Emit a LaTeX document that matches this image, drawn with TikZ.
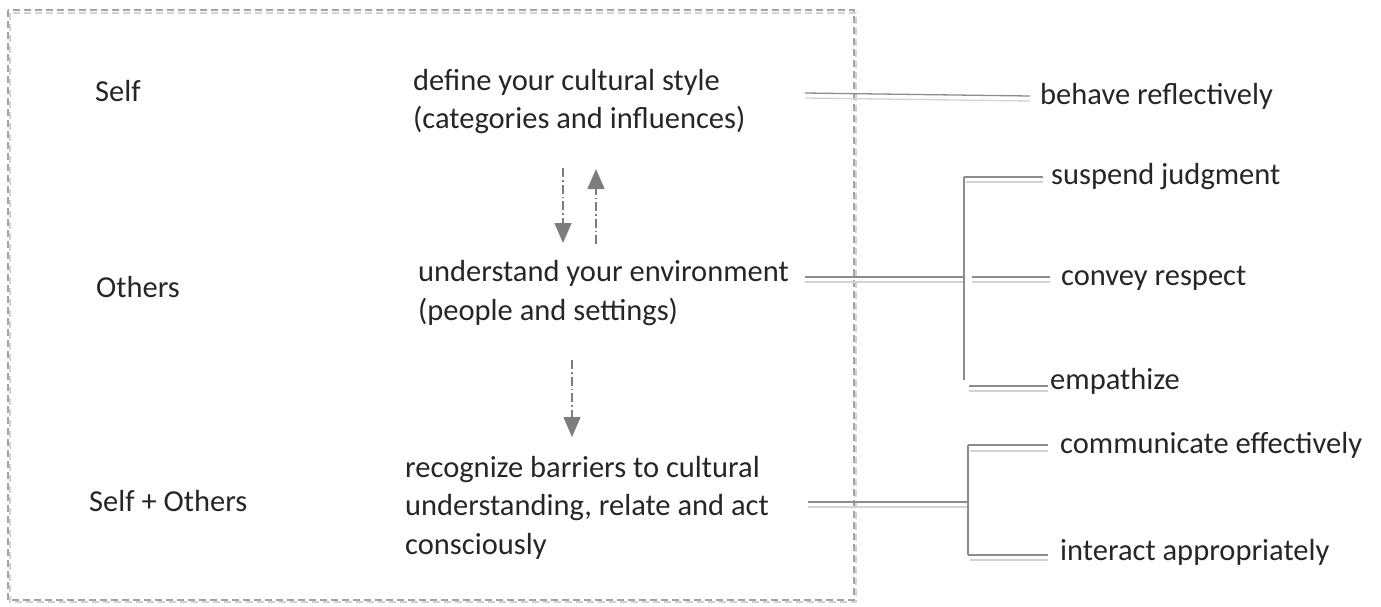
\documentclass[tikz,border=0pt]{standalone}
\usepackage{fontspec}
\setmainfont{Carlito}
\usetikzlibrary{arrows.meta}
\definecolor{dk}{RGB}{140,140,140}
\definecolor{lt}{RGB}{210,210,210}
\definecolor{arr}{RGB}{125,125,125}
\begin{document}
\begin{tikzpicture}[x=1pt,y=-1pt,
  lbl/.style={anchor=base west,inner sep=0pt,font=\fontsize{30.5}{38.5}\selectfont,text=black!85},
  blk/.style={anchor=base west,inner sep=0pt,font=\fontsize{30.5}{38.5}\selectfont,text=black!85,align=left},
  con/.style={draw=dk,line width=1.3pt},
  conl/.style={draw=lt,line width=1.3pt},
  dda/.style={draw=arr,line width=1.6pt,dash pattern=on 9pt off 3pt on 1.5pt off 3pt,-{Triangle[width=17pt,length=20pt]}}
]
\useasboundingbox (0,0) rectangle (1381,606);
% frame
\draw[lt,line width=1.2pt,dash pattern=on 7pt off 4pt] (10,13) rectangle (856,602);
\draw[dk!80,line width=1.2pt,dash pattern=on 7pt off 4pt] (8,10) rectangle (854,600);

% left labels
\node[lbl] (self) at (95,101) {Self};
\node[lbl] (others) at (96,297) {Others};
\node[lbl] (so) at (89,511) {Self + Others};

% middle texts (anchor at last-line baseline)
\node[blk] (def) at (413,128.5) {define your cultural style\\(categories and influences)};
\node[blk] (und) at (418,320) {understand your environment\\(people and settings)};
\node[blk] (rec) at (405,554) {recognize barriers to cultural\\understanding, relate and act\\consciously};

% right texts
\node[lbl] (beh) at (1040,104) {behave reflectively};
\node[lbl] (sus) at (1051,184) {suspend judgment};
\node[lbl] (con) at (1061,285) {convey respect};
\node[lbl] (emp) at (1050,389) {empathize};
\node[lbl] (com) at (1060,453) {communicate effectively};
\node[lbl] (int) at (1060,560) {interact appropriately};

% coordinates
\coordinate (b0) at (805,93);
\coordinate (b1) at (1030,96);
\coordinate (u0) at (805,277);
\coordinate (uj) at (964,277);
\coordinate (ut) at (964,177);
\coordinate (ub) at (964,380);
\coordinate (r0) at (808,502);
\coordinate (rj) at (968,502);
\coordinate (rt) at (968,445);
\coordinate (rb) at (968,555);

% behave
\draw[conl] ([yshift=-5pt]b0) -- ([yshift=-5pt]b1);
\draw[con] (b0) -- (b1);
% others
\draw[conl] ([yshift=-5pt]u0) -- ([yshift=-5pt]uj);
\draw[con] (u0) -- (uj);
\draw[con] (ut) -- (ub);
\draw[conl] (966,182) -- (1043,182);
\draw[con] (ut) -- (1043,177);
\draw[conl] (972,282) -- (1050,282);
\draw[con] (972,277) -- (1050,277);
\draw[conl] (969,391) -- (1048,391);
\draw[con] (969,386) -- (1048,386);
% self+others
\draw[conl] ([yshift=-5pt]r0) -- ([yshift=-5pt]rj);
\draw[con] (r0) -- (rj);
\draw[con] (rt) -- (rb);
\draw[conl] (970,451) -- (1048,451);
\draw[con] (rt) -- (1048,445);
\draw[conl] (970,560) -- (1048,560);
\draw[con] (rb) -- (1048,555);

% arrows
\coordinate (a1s) at (563,168);
\coordinate (a1e) at (563,243);
\coordinate (a2s) at (596,244);
\coordinate (a2e) at (596,169);
\coordinate (a3s) at (572,360);
\coordinate (a3e) at (572,437);
\draw[dda] (a1s) -- (a1e);
\draw[dda] (a2s) -- (a2e);
\draw[dda] (a3s) -- (a3e);
\end{tikzpicture}
\end{document}
